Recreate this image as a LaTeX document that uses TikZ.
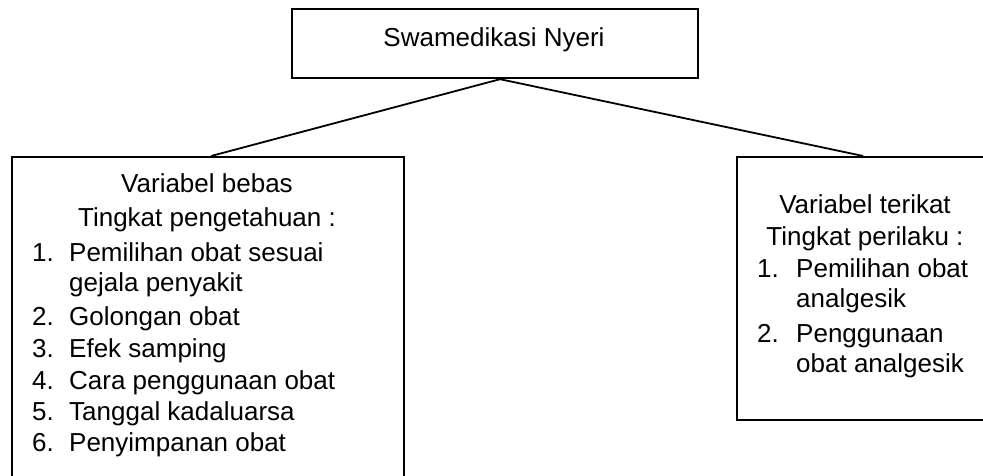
\documentclass[tikz,border=0pt]{standalone}
\usepackage{fontspec}
\setmainfont{Liberation Sans}
\tikzset{
  box/.style={draw, line width=2.2pt, inner sep=0pt, anchor=north west},
  link/.style={line width=1.8pt},
  txt/.style={font=\fontsize{26}{31}\selectfont, inner sep=0pt, anchor=base},
  item/.style={txt, anchor=base west}
}
\begin{document}
\begin{tikzpicture}[x=1pt,y=-1pt]
      \useasboundingbox (0,0) rectangle (983,476);
      \clip (0,0) rectangle (983,476);
      \node[box, minimum width=406pt, minimum height=69pt] (nyeri) at (291,8) {};
      \node[box, minimum width=392pt, minimum height=360pt] (bebas) at (11,156) {};
      \node[box, minimum width=258pt, minimum height=263pt] (terikat) at (736,156) {};
      \node[txt] (nyeri-t) at (494,47) {Swamedikasi Nyeri};
      % variabel bebas
      \node[txt] (bebas-a) at (207,193) {Variabel bebas};
      \node[txt] (bebas-b) at (207,226) {Tingkat pengetahuan :};
      \node[item] (bebas-n1) at (32,261) {1.};
      \node[item] (bebas-1) at (69,261) {Pemilihan obat sesuai};
      \node[item] (bebas-1b) at (69,291) {gejala penyakit};
      \node[item] (bebas-n2) at (32,325) {2.};
      \node[item] (bebas-2) at (69,325) {Golongan obat};
      \node[item] (bebas-n3) at (32,357) {3.};
      \node[item] (bebas-3) at (69,357) {Efek samping};
      \node[item] (bebas-n4) at (32,389) {4.};
      \node[item] (bebas-4) at (69,389) {Cara penggunaan obat};
      \node[item] (bebas-n5) at (32,420) {5.};
      \node[item] (bebas-5) at (69,420) {Tanggal kadaluarsa};
      \node[item] (bebas-n6) at (32,451) {6.};
      \node[item] (bebas-6) at (69,451) {Penyimpanan obat};
      % variabel terikat
      \node[txt] (terikat-a) at (865,213) {Variabel terikat};
      \node[txt] (terikat-b) at (865,245) {Tingkat perilaku :};
      \node[item] (terikat-n1) at (757,277) {1.};
      \node[item] (terikat-1) at (796,277) {Pemilihan obat};
      \node[item] (terikat-1b) at (796,307) {analgesik};
      \node[item] (terikat-n2) at (757,342) {2.};
      \node[item] (terikat-2) at (796,342) {Penggunaan};
      \node[item] (terikat-2b) at (796,372) {obat analgesik};
      \coordinate (split) at ([xshift=5pt]nyeri.south);
      \draw[link] (split) -- ([xshift=3pt]bebas.north);
      \draw[link] (split) -- ([xshift=-3pt]terikat.north);
    \end{tikzpicture}
\end{document}
